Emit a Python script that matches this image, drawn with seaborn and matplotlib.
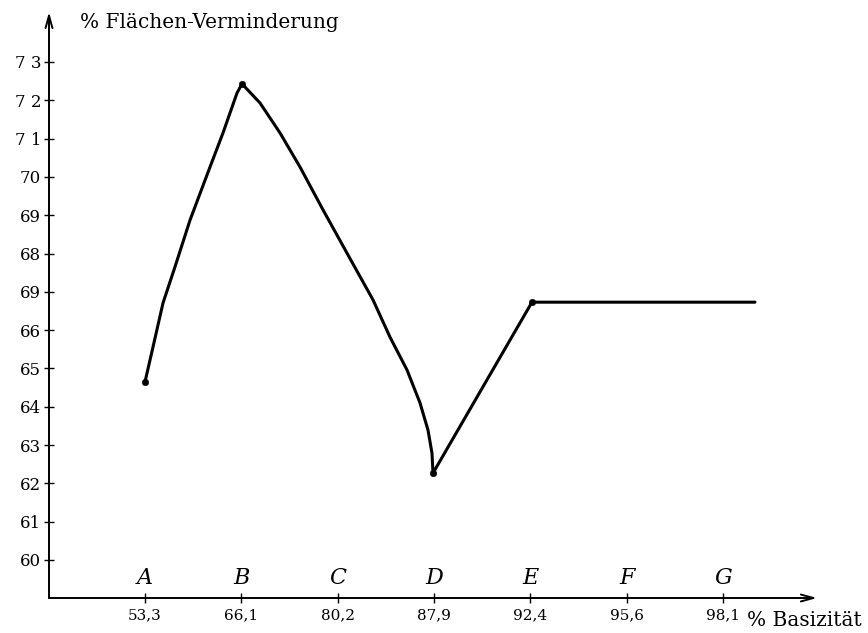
import matplotlib
matplotlib.use('Agg')
import matplotlib.pyplot as plt
import seaborn as sns

# categories on the x axis and their basicity values
letters = ['A', 'B', 'C', 'D', 'E', 'F', 'G']
basicity = ['53,3', '66,1', '80,2', '87,9', '92,4', '95,6', '98,1']

# y ticks and their printed labels (as in the original print)
y_ticks = [60, 61, 62, 63, 64, 65, 66, 67, 68, 69, 70, 71, 72, 73]
y_labels = ['60', '61', '62', '63', '64', '65', '66', '69', '68', '69', '70', '7 1', '7 2', '7 3']

# traced curve (category position, % area reduction)
curve_x = [0.0, 0.083, 0.187, 0.311, 0.467, 0.675, 0.810, 0.955, 1.007,
           1.194, 1.401, 1.609, 1.848, 2.097, 2.367, 2.543, 2.720, 2.855,
           2.938, 2.979, 2.990, 4.017, 6.332]
curve_y = [64.65, 65.56, 66.71, 67.65, 68.87, 70.26, 71.15, 72.19, 72.43,
           71.93, 71.15, 70.26, 69.14, 68.01, 66.79, 65.82, 64.96, 64.10,
           63.39, 62.79, 62.27, 66.73, 66.73]

# measured points
point_x = [0.0, 1.007, 2.990, 4.017]
point_y = [64.65, 72.43, 62.27, 66.73]

sns.set_style('white')
plt.rcParams['font.family'] = ['DejaVu Serif']
plt.rcParams['text.color'] = 'black'
plt.rcParams['xtick.color'] = 'black'
plt.rcParams['ytick.color'] = 'black'

fig = plt.figure(figsize=(8.68, 6.33), dpi=100)
ax = fig.add_axes([49 / 868, 1 - 598 / 633, (817 - 49) / 868, (598 - 12) / 633])

sns.lineplot(x=curve_x, y=curve_y, sort=False, estimator=None, color='black',
             linewidth=2.2, ax=ax)
sns.scatterplot(x=point_x, y=point_y, color='black', s=22, edgecolor='black', ax=ax, zorder=3)

ax.set_xlim(-0.9966, 6.976)
ax.set_ylim(59.008, 74.305)

for s in ax.spines.values():
    s.set_visible(False)

arrow = dict(arrowstyle='->,head_length=0.9,head_width=0.25', lw=1.4, color='black',
             shrinkA=0, shrinkB=0)
ax.annotate('', xy=(1, 0), xytext=(0, 0), xycoords='axes fraction', arrowprops=arrow)
ax.annotate('', xy=(0, 1), xytext=(0, 0), xycoords='axes fraction', arrowprops=arrow)

ax.set_yticks(y_ticks)
ax.set_yticklabels(y_labels, fontsize=12)
ax.set_xticks(range(len(basicity)))
ax.set_xticklabels(basicity, fontsize=11)
ax.tick_params(axis='y', direction='inout', length=7, width=1, pad=2, left=True)
ax.tick_params(axis='x', direction='inout', length=7, width=1, pad=4, bottom=True)

for i, letter in enumerate(letters):
    ax.text(i, 59.53, letter, ha='center', va='center', fontsize=16, style='italic')

fig.text(80 / 868, 1 - 22 / 633, '% Flächen-Verminderung', ha='left', va='center', fontsize=14.5)
fig.text(747 / 868, 1 - 620 / 633, '% Basizität', ha='left', va='center', fontsize=14.5)

fig.savefig('out.png', dpi=100, facecolor='white')
